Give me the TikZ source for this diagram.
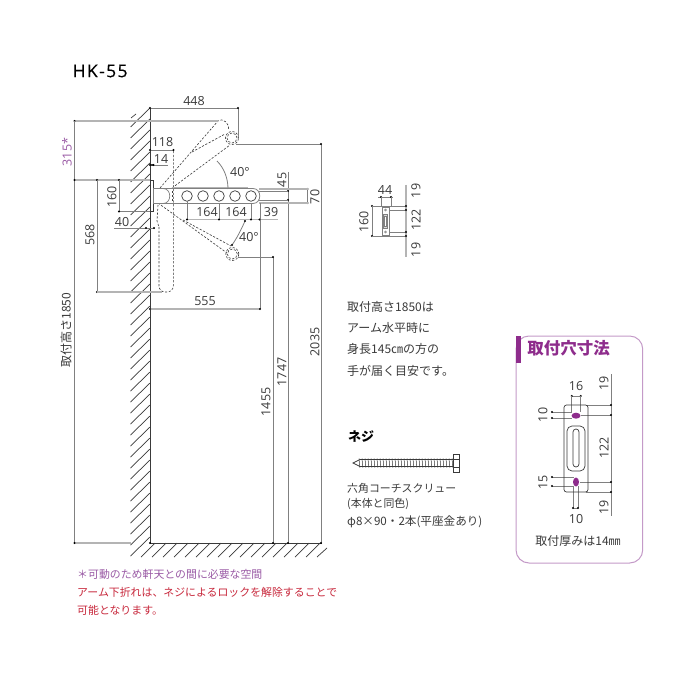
\documentclass[tikz,border=0pt]{standalone}
\usepackage{fontspec}
\setmainfont{Open Sans}
\newfontfamily\cjk{Noto Sans CJK JP}
\newfontfamily\titlefont[LetterSpace=8,FakeBold=0.25]{Open Sans}
\definecolor{ink}{HTML}{3A3A3A}
\definecolor{dimc}{HTML}{808080}
\definecolor{lightdim}{HTML}{B4B4B4}
\definecolor{notepurple}{HTML}{9A5AA5}
\definecolor{notered}{HTML}{C8283C}
\definecolor{boxpurple}{HTML}{8E2C8C}
\definecolor{boxline}{HTML}{C49AC8}
\tikzset{
  dimline/.style={draw=dimc,line width=0.8pt},
  lightline/.style={draw=lightdim,line width=1.1pt},
  hatchline/.style={draw=ink,line width=0.7pt},
  outline/.style={draw=ink,line width=0.7pt},
  thinplate/.style={draw=dimc,line width=0.5pt},
  dashline/.style={draw=ink,line width=0.6pt,dash pattern=on 2.2pt off 1.6pt},
  num/.style={inner sep=0pt,text=ink,font=\fontsize{12.5}{12}\selectfont},
  numv/.style={num,rotate=90},
  jptext/.style={inner sep=0pt,anchor=west,text=ink,font=\cjk\fontsize{10.9}{12}\selectfont},
  jpmid/.style={jptext,font=\cjk\fontsize{12}{12}\selectfont},
  ddot/.style={fill=black,draw=none}
}
\newcommand{\dd}[2]{\fill[ddot] (#1,#2) circle (1.15pt);}
\begin{document}
\begin{tikzpicture}[x=1pt,y=-1pt]
\useasboundingbox[fill=white] (0,0) rectangle (700,700);
\node[inner sep=0pt,anchor=west,text=black,font=\titlefont\fontsize{17.5}{16}\selectfont] (title) at (72.5,71) {HK-55};

% wall
\foreach \y in {124,135,...,554}{
  \draw[hatchline] (130.5,\y+3) -- (150,\y-16);
}
\draw[hatchline] (131,118) -- (136,114);
\draw[outline,line width=0.9pt] (150,108) -- (150,543) -- (322,543);
% ground
\foreach \x in {141,152,...,306}{ \draw[hatchline] (\x,557) -- (\x+14,543); }
\draw[hatchline] (317,557) -- (327,548);

% arm upper dashed
\draw[dashline] (160,188) -- (218,121) .. controls (222,117) and (231,124) .. (228,130);
\draw[dashline] (172,188) -- (230,145);
\draw[dashline] (192,152) -- (225,134);
\draw[dashline] (232,138) circle (6.5pt);
\draw[dashline] (232,138) circle (5pt);
% arm lower dashed
\draw[dashline] (158,203) -- (227,253);
\draw[dashline] (183,220) -- (231,246);
\draw[dashline] (232.3,254) circle (6.5pt);
\draw[dashline] (232.3,254) circle (5pt);
% arm vertical dashed
\draw[dashline,rounded corners=6pt] (159,227) -- (159,292) -- (173.3,292) -- (173.3,150);
\draw[dashline] (158,205) -- (157,221) -- (159,227);

% bracket
\draw[outline,fill=white] (150,180) rectangle (153.5,211);
% arm
\draw[outline,draw=dimc,fill=white] (153.5,188.5) -- (163,188.5) .. controls (172,188.5) and (172,203.5) .. (163,203.5) -- (153.5,203.5) -- cycle;
\draw[dimline] (163,188.5) -- (253,188.5) .. controls (262,188.5) and (262,203.5) .. (253,203.5) -- (163,203.5);
\draw[dimline,draw=lightdim] (172,187.5) -- (248,187.5);
\draw[dashline] (172,191) -- (172,201);
\foreach \x in {187,203,219,235,251}{ \draw[outline] (\x,196) circle (5.3pt); }

% 40 deg arcs
\draw[dimline] (217,161) .. controls (224,168) and (228,178) .. (228,189);
\draw[dimline] (245,221) .. controls (241,230) and (237,238) .. (232,245);
\dd{245}{221} \dd{232}{245}

% top dims
\draw[dimline] (150,108) -- (238,108) -- (238,137);
\dd{150}{108} \dd{238}{108}
\draw[lightline] (74.5,121) -- (218,121);
\dd{74.5}{121}
\draw[dimline] (74.5,121) -- (74.5,543);
\draw[lightline] (74.5,180) -- (150,180);
\dd{74.5}{180} \dd{97}{180} \dd{119}{180}
\draw[dimline] (97,180) -- (97,292);
\dd{97}{292}
\draw[lightline] (97,292) -- (162,292);
\draw[dimline] (119,180) -- (119,211.5);
\draw[dimline] (119,211.5) -- (150,211.5);
\dd{119}{211.5}
\draw[dimline] (114,228) -- (155,228);
\dd{146}{228} \dd{154}{228}
\draw[dimline] (150,150) -- (173.5,150);
\dd{150}{150} \dd{173.5}{150}
\draw[dimline] (150,165) -- (168,165);
\draw[line width=1.6pt,draw=ink] (150,165) -- (153.5,165);
\dd{150}{165} \dd{153.5}{165}

% right dims
\draw[dimline] (236,144) -- (321,144) -- (321,543);
\dd{321}{144}
\draw[dimline] (288,172) -- (288,543);
\dd{288}{191} \dd{288}{200}
\draw[dimline] (307.5,189) -- (307.5,203);
\dd{307.5}{189} \dd{307.5}{203}
\draw[lightline] (259,189) -- (307.5,189);
\draw[lightline] (259,203) -- (307.5,203);
\draw[dimline] (259,191) -- (288,191);
\draw[dimline] (259,200) -- (288,200);
\draw[dimline] (260,203) -- (260,309);
\draw[lightline] (150,309) -- (260,309);
\dd{150}{309} \dd{260}{309}
\draw[dimline] (238,257) -- (273,257) -- (273,543);
\dd{273}{257}
\draw[dimline] (187,201) -- (187,219.5);
\draw[dimline] (219,203) -- (219,219.5);
\draw[dimline] (251,203) -- (251,219.5);
\draw[lightline] (187,219.5) -- (278,219.5);
\dd{187}{219.5} \dd{219}{219.5} \dd{251}{219.5} \dd{259.5}{219.5}
% bottom
\draw[lightline] (74.5,543) -- (131,543);
\dd{74.5}{543} \dd{150}{543} \dd{273}{543} \dd{288}{543} \dd{321}{543}

% dim labels
\node[num] (n448) at (194,101) {448};
\node[numv,text=notepurple] (n315) at (67,152) {315*};
\node[num] (n118) at (162.5,142) {118};
\node[num] (n14) at (161,159) {14};
\node[numv] (n160) at (112,197) {160};
\node[numv] (n568) at (90,235) {568};
\node[num] (n40) at (122,222.5) {40};
\node[num] (a40u) at (240,172) {40°};
\node[num] (a40l) at (249,237) {40°};
\node[num] (n164a) at (207,212) {164};
\node[num] (n164b) at (236,212) {164};
\node[num] (n39) at (271,212) {39};
\node[numv] (n45) at (282,180) {45};
\node[numv] (n70) at (315,197) {70};
\node[num] (n555) at (205,301) {555};
\node[numv] (n1455) at (266,402) {1455};
\node[numv] (n1747) at (282,372) {1747};
\node[numv] (n2035) at (315,342) {2035};
\node[inner sep=0pt,rotate=90,text=ink,font=\cjk\fontsize{12}{12}\selectfont] (h1850) at (66,330) {取付高さ1850};

% small front view
\draw[dimline] (378,197) -- (393,197);
\dd{381}{197} \dd{391}{197}
\draw[dimline] (381,197) -- (381,207);
\draw[dimline] (391,197) -- (391,207);
\draw[dimline] (372,206) -- (372,236);
\dd{372}{206} \dd{372}{236}
\draw[dimline] (372,206) -- (406,206);
\draw[dimline] (372,236) -- (406,236);
\draw[dimline] (386,210) -- (406,210);
\draw[dimline] (386,232) -- (406,232);
\draw[lightline] (406,185) -- (406,257);
\dd{406}{206} \dd{406}{210} \dd{406}{232} \dd{406}{236}
\draw[thinplate,fill=white] (382,207) rectangle (389,235);
\draw[thinplate,fill=lightdim!50] (383.5,214) rectangle (387.5,228);
\draw[thinplate,fill=white] (384.7,216) rectangle (386.3,226);
\draw[thinplate] (385.5,210) circle (1pt);
\draw[thinplate] (385.5,232) circle (1pt);
\node[num] (s44) at (385,190) {44};
\node[numv] (s160) at (364,222) {160};
\node[numv] (s19a) at (416,191) {19};
\node[numv] (s122) at (416,220) {122};
\node[numv] (s19b) at (416,250) {19};

% middle text
\node[jpmid] (t1) at (347,307) {取付高さ1850は};
\node[jpmid] (t2) at (347,328) {アーム水平時に};
\node[jpmid] (t3) at (347,349) {身長145㎝の方の};
\node[jpmid] (t4) at (347,371) {手が届く目安です。};

% screw
\node[jptext,font=\cjk\bfseries\fontsize{13}{13}\selectfont,text=black] (neji) at (348,437) {ネジ};
\draw[outline] (453,459.5) -- (360,459.5) -- (353,463) -- (360,466.5) -- (453,466.5);
\foreach \x in {359,362,...,452}{ \draw[outline,line width=0.5pt] (\x,458.3) -- (\x+0.8,467.7); }
\draw[outline,fill=white] (453,454) rectangle (459,472);
\draw[outline,line width=0.5pt] (453,459) -- (459,459);
\draw[outline,line width=0.5pt] (453,467) -- (459,467);
\node[jptext] (sc1) at (347,488) {六角コーチスクリュー};
\node[jptext] (sc2) at (347,504) {(本体と同色)};
\node[jptext,font=\cjk\fontsize{11.6}{12}\selectfont] (sc3) at (347,521.5) {φ8×90・2本(平座金あり)};

% notes
\node[jptext,text=notepurple] (nt1) at (77,574) {＊可動のため軒天との間に必要な空間};
\node[jptext,text=notered] (nt2) at (77,592) {アーム下折れは、ネジによるロックを解除することで};
\node[jptext,text=notered] (nt3) at (77,610) {可能となります。};

% mounting box
\draw[boxline,line width=1pt,rounded corners=13pt] (516,336) rectangle (642.7,563);
\fill[boxpurple] (516,336) rectangle (521,363);
\node[inner sep=0pt,text=boxpurple,font=\cjk\bfseries\fontsize{16.5}{16}\selectfont] (boxtitle) at (568.5,348) {取付穴寸法};
\draw[dimline] (571.7,396) -- (580.7,396);
\dd{571.7}{396} \dd{580.7}{396}
\draw[dimline] (571.7,396) -- (571.7,412);
\draw[dimline] (580.7,396) -- (580.7,412);
\draw[dimline] (552,412) -- (572,412);
\draw[dimline] (552,418) -- (572,418);
\dd{552}{412} \dd{552}{418}
\draw[dimline] (552,477) -- (574,477);
\draw[dimline] (552,486) -- (574,486);
\dd{552}{477} \dd{552}{486}
\draw[dimline] (573,486) -- (573,508);
\draw[dimline] (578,486) -- (578,508);
\draw[dimline] (573,508) -- (578,508);
\dd{573}{508} \dd{578}{508}
\draw[dimline] (611,374) -- (611,516);
\draw[dimline] (586,405) -- (611,405);
\draw[dimline] (581,415) -- (611,415);
\draw[dimline] (580,482) -- (611,482);
\draw[dimline] (586,492) -- (611,492);
\dd{611}{405} \dd{611}{415} \dd{611}{482} \dd{611}{492}
\draw[outline,rounded corners=2.5pt] (564,405) rectangle (588,492);
\draw[outline,rounded corners=5pt] (567,426) rectangle (585,471);
\draw[outline,rounded corners=3pt] (573,429) rectangle (579,467);
\fill[boxpurple] (576,415.7) ellipse (4.5pt and 3pt);
\fill[boxpurple] (576,482) ellipse (3pt and 4.5pt);
\node[num] (m16) at (576,386) {16};
\node[numv] (m19a) at (604,383) {19};
\node[numv] (m10a) at (543,415) {10};
\node[numv] (m122) at (604,448) {122};
\node[numv] (m15) at (543,482) {15};
\node[numv] (m19b) at (604,507) {19};
\node[num] (m10b) at (576,519) {10};
\node[inner sep=0pt,text=ink,font=\cjk\fontsize{12}{12}\selectfont] (thick) at (578,541) {取付厚みは14㎜};
\end{tikzpicture}
\end{document}
